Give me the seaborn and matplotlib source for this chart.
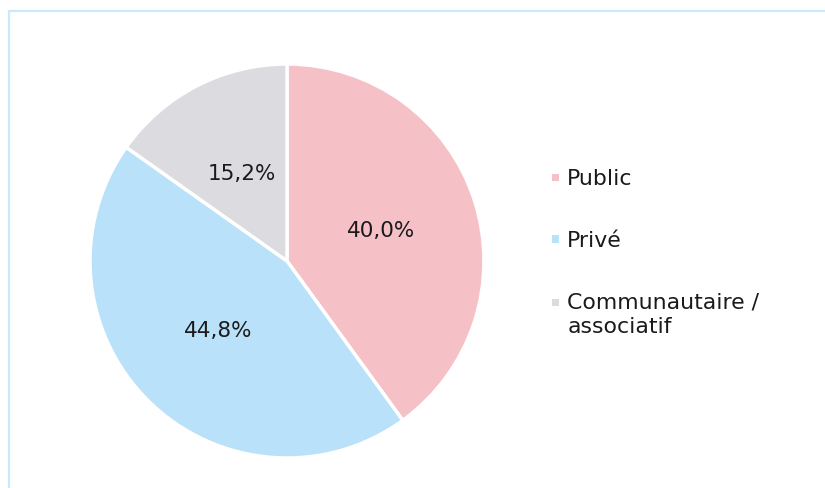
import matplotlib
matplotlib.use("Agg")
import matplotlib.pyplot as plt
from matplotlib.patches import Rectangle, Patch
from matplotlib.legend_handler import HandlerBase
import seaborn as sns

# Répartition par secteur
categories = ["Public", "Privé", "Communautaire /\nassociatif"]
shares = [40.0, 44.8, 15.2]
colors = ["#f5c1c7", "#bae1fa", "#dcdce0"]

sns.set_theme(style="white")
plt.rcParams["font.family"] = ["DejaVu Sans"]
text_color = "#1a1a1a"

fig = plt.figure(figsize=(8.25, 4.88), dpi=100)
W, H = 825, 488
cx, cy, r = 287, 261, 197
ax = fig.add_axes([(cx - r) / W, (H - cy - r) / H, 2 * r / W, 2 * r / H])

palette = sns.color_palette(colors)
wedges, _, autotexts = ax.pie(
    shares,
    colors=palette,
    startangle=90,
    counterclock=False,
    autopct=lambda p: f"{p:.1f}%".replace(".", ","),
    pctdistance=0.5,
    wedgeprops=dict(edgecolor="white", linewidth=2.5),
    textprops=dict(fontsize=15.5, color=text_color),
)
ax.set_xlim(-1, 1)
ax.set_ylim(-1, 1)
ax.set_aspect("equal")


class SquareHandler(HandlerBase):
    def __init__(self, lift=0.0):
        super().__init__()
        self.lift = lift

    def create_artists(self, legend, orig_handle, xdescent, ydescent,
                       width, height, fontsize, trans):
        s = 5.2
        y = -ydescent + (height - s) / 2 + self.lift
        sq = Rectangle((-xdescent, y), s, s,
                       facecolor=orig_handle.get_facecolor(),
                       edgecolor="none", transform=trans)
        return [sq]


handles = [Patch(facecolor=c) for c in palette]
hmap = {handles[0]: SquareHandler(), handles[1]: SquareHandler(),
        handles[2]: SquareHandler(lift=9.0)}
leg = fig.legend(
    handles, categories,
    handler_map=hmap,
    loc="upper left",
    bbox_to_anchor=(552 / W, 1 - 169 / H),
    frameon=False,
    fontsize=15.8,
    handlelength=0.45,
    handletextpad=0.25,
    labelspacing=1.9,
    borderpad=0,
    borderaxespad=0,
)
for t in leg.get_texts():
    t.set_color(text_color)
    t.set_linespacing(1.3)

# Cadre bleu clair autour du graphique
fig.patches.append(Rectangle((8.5 / W, -0.05), 1.2, (H - 10.5) / H + 0.05,
                             transform=fig.transFigure, fill=False,
                             edgecolor="#cce8fb", linewidth=1.6))

fig.savefig("out.png", dpi=100)
